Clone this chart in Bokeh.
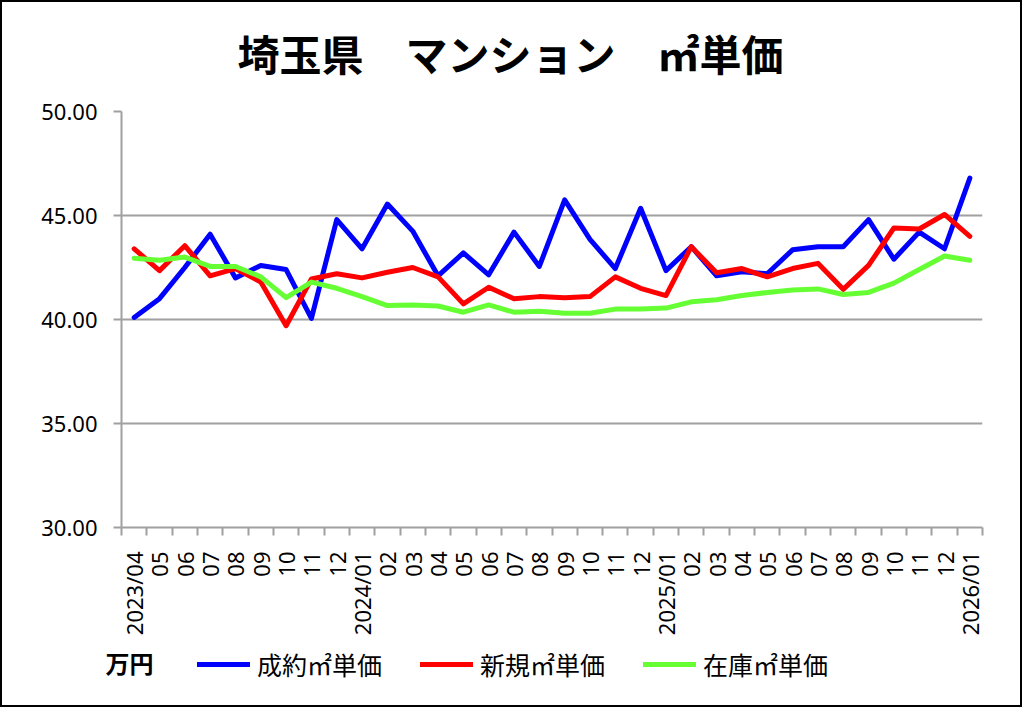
import math
from bokeh.plotting import figure
from bokeh.layouts import column
from bokeh.models import (Range1d, FixedTicker, Legend, LegendItem, Label,
                          PrintfTickFormatter)
from bokeh.embed import file_html
from bokeh.resources import INLINE

# ---- data ----
months = ["2023/04", "05", "06", "07", "08", "09", "10", "11", "12",
          "2024/01", "02", "03", "04", "05", "06", "07", "08", "09", "10", "11", "12",
          "2025/01", "02", "03", "04", "05", "06", "07", "08", "09", "10", "11", "12",
          "2026/01"]
seiyaku = [40.1, 41.0, 42.5, 44.1, 42.0, 42.6, 42.4, 40.05, 44.8, 43.4, 45.55, 44.25,
           42.1, 43.2, 42.15, 44.2, 42.55, 45.75, 43.85, 42.45, 45.35, 42.35, 43.5,
           42.1, 42.3, 42.2, 43.35, 43.5, 43.5, 44.8, 42.9, 44.2, 43.4, 46.8]
shinki = [43.4, 42.35, 43.55, 42.1, 42.45, 41.8, 39.7, 41.95, 42.2, 42.0, 42.27, 42.5,
          42.05, 40.75, 41.55, 41.0, 41.1, 41.05, 41.1, 42.05, 41.5, 41.15, 43.5,
          42.25, 42.45, 42.05, 42.45, 42.7, 41.45, 42.6, 44.4, 44.35, 45.05, 44.0]
zaiko = [42.95, 42.85, 43.0, 42.55, 42.55, 42.05, 41.05, 41.8, 41.5, 41.1, 40.67, 40.7,
         40.65, 40.35, 40.7, 40.35, 40.4, 40.3, 40.3, 40.5, 40.5, 40.55, 40.85,
         40.95, 41.15, 41.3, 41.42, 41.47, 41.2, 41.3, 41.75, 42.4, 43.05, 42.85]
series_names = ["成約㎡単価", "新規㎡単価", "在庫㎡単価"]
y_ticks = [30, 35, 40, 45, 50]
title_text = "埼玉県　マンション　㎡単価"
unit_text = "万円"

colors = ["#0000FF", "#FF0000", "#66FF33"]
GRID = "#A0A0A0"
JP = "Noto Sans CJK JP"
LAT = "Noto Sans"
W = 1018
FRAME_LEFT = 119
TOP_H = 84

x = list(range(len(months)))
series = [seiyaku, shinki, zaiko]


def strip(height):
    f = figure(width=W, height=height, output_backend="svg", toolbar_location=None,
               x_axis_type=None, y_axis_type=None,
               x_range=Range1d(100, 101), y_range=Range1d(0, 1), min_border=0)
    f.outline_line_color = None
    f.grid.visible = False
    try:
        f.frame_align = False
    except Exception:
        pass
    return f


# ---------------- title strip ----------------
t = strip(TOP_H)
t.add_layout(Label(x=235, y=TOP_H - 50, x_units="screen", y_units="screen",
                   text=title_text, text_font=JP, text_font_size="42px",
                   text_font_style="bold", text_baseline="middle", text_color="black"))

# ---------------- main chart ----------------
p = figure(width=W, height=643 - TOP_H, output_backend="svg", toolbar_location=None,
           x_range=Range1d(-0.5, len(months) - 0.5), y_range=Range1d(30, 50),
           min_border_left=FRAME_LEFT, min_border_right=38, min_border_top=109 - TOP_H,
           min_border_bottom=118)

p.outline_line_color = None
p.xgrid.visible = False
p.ygrid.grid_line_color = GRID
p.ygrid.grid_line_width = 2

p.xaxis.ticker = FixedTicker(ticks=x, minor_ticks=[i - 0.5 for i in range(len(months) + 1)])
p.xaxis.major_label_overrides = {i: m for i, m in enumerate(months)}
p.xaxis.major_label_orientation = math.pi / 2
p.xaxis.major_tick_line_color = None
p.xaxis.major_tick_out = 0
p.xaxis.major_tick_in = 0
p.xaxis.minor_tick_line_color = GRID
p.xaxis.minor_tick_line_width = 2
p.xaxis.minor_tick_out = 8
p.xaxis.minor_tick_in = 0
p.xaxis.axis_line_color = GRID
p.xaxis.axis_line_width = 2
p.xaxis.major_label_text_font = LAT
p.xaxis.major_label_text_font_size = "22px"
p.xaxis.major_label_text_color = "black"
p.xaxis.major_label_standoff = 16

p.yaxis.ticker = FixedTicker(ticks=y_ticks, minor_ticks=[])
p.yaxis.formatter = PrintfTickFormatter(format="%.2f")
p.yaxis.major_tick_line_color = GRID
p.yaxis.major_tick_line_width = 2
p.yaxis.major_tick_out = 8
p.yaxis.major_tick_in = 0
p.yaxis.minor_tick_line_color = None
p.yaxis.axis_line_color = GRID
p.yaxis.axis_line_width = 2
p.yaxis.major_label_text_font = LAT
p.yaxis.major_label_text_font_size = "22px"
p.yaxis.major_label_text_color = "black"
p.yaxis.major_label_standoff = 16

for vals, c in zip(series, colors):
    p.line(x, vals, line_color=c, line_width=5, line_join="round", line_cap="round")

# ---------------- legend strip ----------------
q = strip(60)

leg_renderers = []
for vals, c in zip(series, colors):
    r = q.line(x, vals, line_color=c, line_width=5, line_cap="round")
    leg_renderers.append(r)

items = [LegendItem(label=n, renderers=[r]) for n, r in zip(series_names, leg_renderers)]
legend = Legend(items=items, orientation="horizontal", location=(195, 23),
                border_line_color=None, background_fill_alpha=0, padding=0, margin=0,
                spacing=38, glyph_width=53, glyph_height=26, label_standoff=7,
                label_height=26, label_text_font=JP, label_text_font_size="25px",
                label_text_color="black", label_text_baseline="middle")
q.add_layout(legend)

q.add_layout(Label(x=103, y=43, x_units="screen", y_units="screen",
                   text=unit_text, text_font=JP, text_font_size="24px",
                   text_font_style="bold", text_baseline="middle", text_color="black"))

layout = column(t, p, q, spacing=0)
layout.styles = {"border": "2px solid black"}

open("out.html", "w").write(file_html(layout, INLINE))
